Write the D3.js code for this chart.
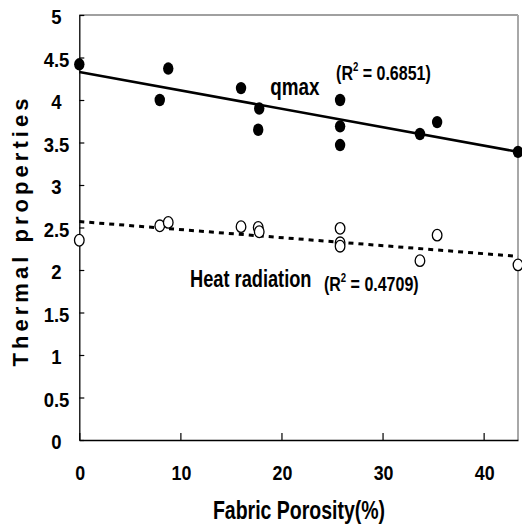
<!DOCTYPE html>
<html><head><meta charset="utf-8">
<script src="https://cdn.jsdelivr.net/npm/d3@7"></script>
<style>
html,body{margin:0;padding:0;background:#fff;}
svg{display:block;}
text{font-family:"Liberation Sans",Arial,sans-serif;font-weight:bold;fill:#000;}
</style></head>
<body>
<svg id="chart" width="522" height="525"></svg>
<script>
// ---- data ----
const porosity = [0, 8.8, 7.96, 16.0, 17.8, 17.7, 25.8, 25.8, 25.8, 33.7, 35.4, 43.4];
const qmax = [4.42, 4.37, 4.00, 4.14, 3.90, 3.65, 4.00, 3.69, 3.47, 3.60, 3.74, 3.39];
const heatPorosity = [0, 7.96, 8.8, 16.0, 17.7, 17.8, 25.8, 25.8, 25.8, 33.7, 35.4, 43.4];
const heatRadiation = [2.35, 2.52, 2.56, 2.51, 2.50, 2.45, 2.49, 2.32, 2.28, 2.11, 2.41, 2.06];
const fitX = [0, 43.4];
const qmaxFit = [4.33, 3.39];
const heatFit = [2.57, 2.16];
const xTicks = [0, 10, 20, 30, 40];
const yTicks = [0, 0.5, 1, 1.5, 2, 2.5, 3, 3.5, 4, 4.5, 5];
const yTickLabels = ["0", "0.5", "1", "1.5", "2", "2.5", "3", "3.5", "4", "4.5", "5"];
const r2qmax = "0.6851";
const r2heat = "0.4709";

// ---- layout ----
const L = 79.3, R = 518, T = 15, B = 440;
const x = d3.scaleLinear().domain([0, 43.4]).range([L, R]);
const y = d3.scaleLinear().domain([0, 5]).range([B, T]);
const svg = d3.select("#chart");

// condensed text helper
function ctext(px, py, str, size, sx, anchor) {
  const g = svg.append("g").attr("transform", `translate(${px},${py}) scale(${sx},1)`);
  const t = g.append("text").attr("x", 0).attr("y", 0).attr("font-size", size)
    .attr("text-anchor", anchor || "start");
  if (str !== null) t.text(str);
  return t;
}

// frame (top/right gray)
svg.append("line").attr("x1", L).attr("x2", R).attr("y1", T).attr("y2", T)
  .attr("stroke", "#a0a0a0").attr("stroke-width", 2);
svg.append("line").attr("x1", R).attr("x2", R).attr("y1", T).attr("y2", B)
  .attr("stroke", "#a8a8a8").attr("stroke-width", 2);

// axes
const xAxis = d3.axisBottom(x).tickValues(xTicks).tickSizeInner(-7).tickSizeOuter(0).tickFormat("");
const gx = svg.append("g").attr("transform", `translate(0,${B})`).call(xAxis);
gx.select(".domain").attr("stroke", "#000").attr("stroke-width", 1.3);
gx.selectAll(".tick line").attr("stroke", "#000").attr("stroke-width", 1.2);

const yAxis = d3.axisLeft(y).tickValues(yTicks).tickSizeInner(-5).tickSizeOuter(0).tickFormat("");
const gy = svg.append("g").attr("transform", `translate(${L},0)`).call(yAxis);
gy.select(".domain").attr("stroke", "#000").attr("stroke-width", 1.3);
gy.selectAll(".tick line").attr("stroke", "#000").attr("stroke-width", 1.2);

// tick labels
xTicks.forEach(d => ctext(x(d) + 1, 480, String(d), 21, 0.85, "middle"));
yTicks.forEach((d, i) => ctext(56.5, y(d) + 9, yTickLabels[i], 21, 0.88, "middle"));

// axis titles
ctext(299, 519, "Fabric Porosity(%)", 25, 0.78, "middle");
svg.append("text")
  .attr("transform", "translate(28,232.5) rotate(-90)")
  .attr("text-anchor", "middle")
  .attr("font-size", 22)
  .attr("textLength", 268).attr("lengthAdjust", "spacing")
  .text("Thermal properties");

// trend lines
const line = d3.line().x(d => x(d[0])).y(d => y(d[1]));
svg.append("path").datum(fitX.map((v, i) => [v, qmaxFit[i]]))
  .attr("d", line).attr("fill", "none").attr("stroke", "#000").attr("stroke-width", 2.6);
svg.append("path").datum(fitX.map((v, i) => [v, heatFit[i]]))
  .attr("d", line).attr("fill", "none").attr("stroke", "#000").attr("stroke-width", 3)
  .attr("stroke-dasharray", "5,5");

// markers
svg.append("g").selectAll("ellipse").data(porosity.map((v, i) => [v, qmax[i]])).join("ellipse")
  .attr("cx", d => x(d[0])).attr("cy", d => y(d[1])).attr("rx", 5.2).attr("ry", 6.2)
  .attr("fill", "#000");
svg.append("g").selectAll("ellipse").data(heatPorosity.map((v, i) => [v, heatRadiation[i]])).join("ellipse")
  .attr("cx", d => x(d[0])).attr("cy", d => y(d[1])).attr("rx", 4.8).attr("ry", 5.8)
  .attr("fill", "#fff").attr("stroke", "#000").attr("stroke-width", 1.3);

// annotations
function r2Label(px, py, val, size, sx) {
  const t = ctext(x(px), y(py), null, size, sx, "start");
  t.append("tspan").text("(R");
  t.append("tspan").attr("font-size", size * 0.6).attr("dy", -9).text("2");
  t.append("tspan").attr("dy", 9).text(" = " + val + ")");
}
ctext(x(18.9), y(4.06), "qmax", 23, 0.82, "start");
r2Label(25.4, 4.235, r2qmax, 20, 0.8);
ctext(x(10.95), y(1.80), "Heat radiation", 24, 0.76, "start");
r2Label(24.2, 1.753, r2heat, 20, 0.8);
</script>
</body></html>
